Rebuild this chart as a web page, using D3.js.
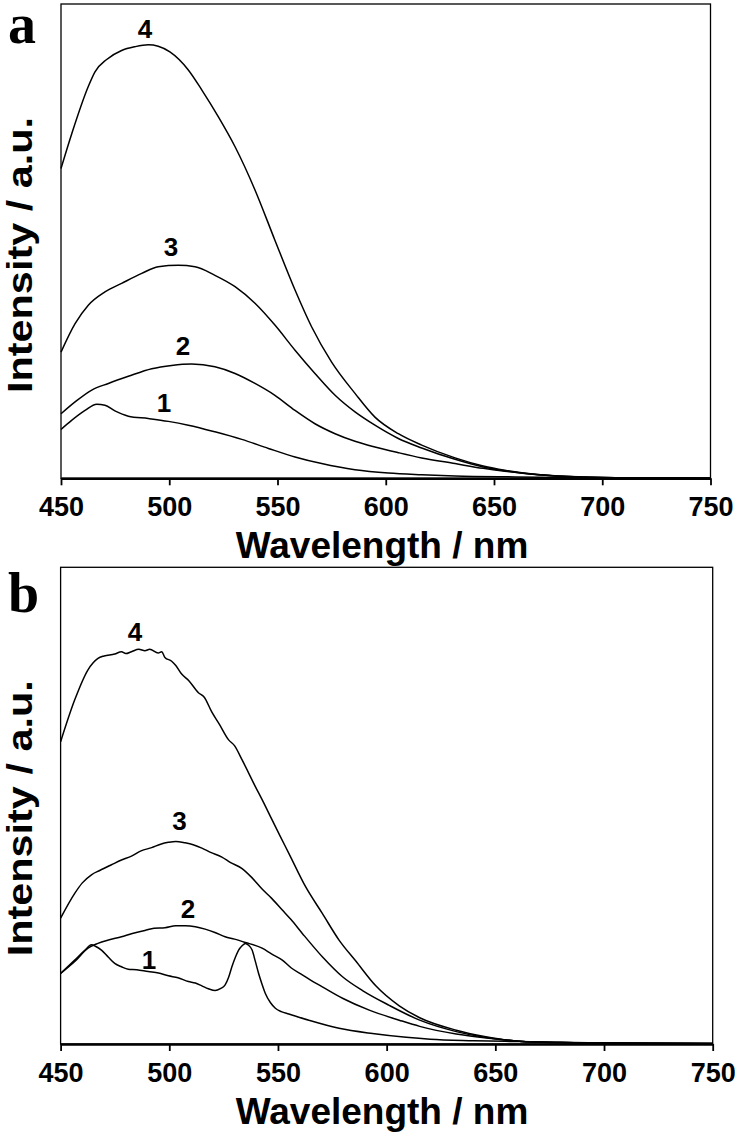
<!DOCTYPE html>
<html>
<head>
<meta charset="utf-8">
<script src="https://cdn.jsdelivr.net/npm/d3@7"></script>
<style>
  body { margin: 0; background: #fff; }
  svg { display: block; }
  .tick text { font-family: "Liberation Sans", Arial, sans-serif; font-weight: bold; }
</style>
</head>
<body>
<svg id="chart" width="739" height="1135"></svg>
<script>
////////////////////////////////////////////////////////////////////////////////
/////////////////////////////////////////////////////////////////////////// Data
////////////////////////////////////////////////////////////////////////////////

// x ticks (nm)
const wavelengthTicks = [450, 500, 550, 600, 650, 700, 750];

// panel a: [wavelength nm, intensity a.u.]
const a1 = [[450,10.3],[454.9,12.2],[461.1,14.3],[466.5,15.6],[470.3,15.4],[474.9,14.2],[481.1,13.1],[490.3,12.6],[499.6,12.0],[508.8,11.2],[521.1,9.8],[533.5,8.2],[545.8,6.3],[558.1,4.5],[570.4,3.1],[585.8,1.8],[601.2,1.1],[616.6,0.75],[632,0.5],[660,0.3],[700,0.1],[750,0]];
const a2 = [[450,13.6],[456.5,16.1],[464.2,18.6],[471.9,20.0],[481.1,21.5],[491.9,23.1],[501.1,23.8],[510.4,24.1],[521.1,23.5],[530.4,22.1],[539.6,20.0],[548.8,17.5],[558.1,14.3],[567.3,11.5],[576.6,9.4],[585.8,7.8],[595,6.6],[605.8,5.4],[616.6,4.3],[632,3.1],[645,2.1],[655,1.5],[670,0.8],[690,0.3],[720,0.1],[750,0]];
const a3 = [[450,26.6],[456.5,32.6],[462.6,36.5],[470.3,39.3],[478,41.1],[487.3,43.2],[494.9,44.6],[504.2,44.9],[511.9,44.6],[521.1,42.8],[530.4,40.4],[539.6,36.9],[548.8,32.3],[558.1,27.0],[567.3,22.1],[576.6,17.5],[585.8,14.0],[595,11.2],[605.8,8.4],[616.6,6.4],[632,4.0],[645,2.4],[655,1.6],[670,0.75],[690,0.3],[720,0.1],[750,0]];
const a4 = [[450,65.3],[455,72.7],[462.6,82.6],[465.7,85.7],[471.1,88.3],[478,90.2],[484.2,91.0],[490.3,91.4],[494.9,91.1],[500.3,89.9],[508.8,86.1],[515,81.9],[522.7,76.2],[530.4,69.9],[539.6,60.8],[548.8,50.2],[558.1,39.7],[565.8,31.9],[575,24.5],[585.8,17.9],[595,12.9],[605.8,9.4],[616.6,7.0],[632,4.3],[645,2.6],[655,1.7],[670,0.8],[690,0.3],[720,0.1],[750,0]];

// panel b: [wavelength nm, intensity a.u.]
const b1 = [[450,14.8],[456.5,17.6],[461,19.6],[464.2,20.8],[466,20.5],[468.8,19.7],[472,18.2],[474.9,16.9],[478,16.2],[481.1,15.7],[485,15.6],[490.3,15.2],[495,14.9],[499.6,14.3],[504,13.9],[508.8,13.1],[512,12.8],[515,12.2],[518,11.6],[521.1,11.2],[523.5,11.6],[525.7,12.4],[527.3,14.0],[528.8,16.2],[530.5,18.3],[531.9,19.7],[533.5,20.6],[535,21.1],[536.5,20.7],[538.1,19.7],[539.5,17.5],[541.1,14.8],[542.7,12.5],[544.2,10.6],[546.5,8.7],[548.8,7.5],[551.5,6.8],[555,6.3],[564.2,5.0],[578.1,3.3],[593.5,2.2],[609,1.4],[620,1.0],[640,0.7],[661,0.5],[700,0.2],[750,0.1]];
const b2 = [[450,14.8],[456.5,17.3],[462.6,20.1],[467.2,21.1],[472,21.8],[478,22.5],[483,23.2],[488.8,23.8],[493,24.3],[498,24.4],[503,24.8],[507.3,24.8],[512,24.6],[516.5,24.1],[521,23.4],[525.7,22.5],[530,22.0],[535,21.3],[542.7,20.1],[547,18.9],[552,17.6],[556,16.0],[561.2,14.5],[565,13.4],[570.4,12.0],[579.7,9.6],[592,7.1],[605.8,5.0],[615.2,3.7],[632,2.1],[645,1.3],[661,0.6],[680,0.3],[700,0.2],[750,0.1]];
const b3 = [[450,26.4],[456.5,31.6],[460,33.8],[464.2,35.5],[468,36.4],[473.4,37.6],[478,38.6],[482.6,39.4],[487,40.5],[491.9,41.2],[496,41.9],[499.6,42.3],[503,42.5],[507.3,42.2],[511,41.8],[515,41.1],[519,40.2],[524.2,39.2],[528,38.1],[533.5,36.8],[538,34.9],[542.7,32.5],[547,30.6],[552,28.1],[556,26.1],[561.2,23.2],[570.4,18.3],[579.7,14.1],[588.9,11.2],[601.2,8.1],[615.2,5.0],[632,2.6],[645,1.4],[661,0.6],[680,0.3],[700,0.2],[750,0.1]];
const b4 = [[450,63.4],[456.5,72.2],[462.6,78.5],[467.2,80.9],[470,81.4],[474.9,81.8],[478,82.3],[480,81.9],[482.6,82.3],[486,82.8],[488.8,82.5],[491,82.8],[494.9,82.0],[496.5,82.3],[498,81.1],[501.1,80.3],[503,79.4],[505.7,77.6],[509,76.2],[513.4,73.7],[516,72.8],[519.6,69.6],[523,67.1],[527.3,63.8],[530,62.6],[533.5,59.6],[539.6,54.0],[543,51.0],[547.3,47.0],[551,43.6],[555,40.0],[562.7,33.0],[570.4,27.4],[578.1,21.8],[585.8,17.4],[595,12.2],[605.8,8.0],[615.2,5.5],[632,2.9],[645,1.6],[661,0.6],[680,0.3],[700,0.2],[750,0.1]];

// curve labels: [text, wavelength, intensity]
const aLabels = [["1",497.6,15.9],["2",506.4,27.9],["3",500.8,48.8],["4",488.8,94.9]];
const bLabels = [["1",490.7,17.8],["2",508.6,28.5],["3",504.7,46.8],["4",484.2,86.4]];

////////////////////////////////////////////////////////////////////////////////
///////////////////////////////////////////////////////////////////////// Panels
////////////////////////////////////////////////////////////////////////////////

const svg = d3.select("#chart");
const sans = "'Liberation Sans', Arial, sans-serif";

function drawPanel(cfg) {
  const xScale = d3.scaleLinear()
                   .domain([450, 750])
                   .range([cfg.left, cfg.right]);
  const yScale = d3.scaleLinear()
                   .domain([0, 100])
                   .range([cfg.bottom, cfg.top]);

  // frame
  svg.append("rect")
       .attr("x", cfg.left)
       .attr("y", cfg.top)
       .attr("width", cfg.right - cfg.left)
       .attr("height", cfg.bottom - cfg.top)
       .attr("fill", "none")
       .attr("stroke", "#000")
       .attr("stroke-width", 1.3);

  // X-axis
  const xAxis = d3.axisBottom(xScale)
                  .tickValues(wavelengthTicks)
                  .tickFormat(d3.format("d"))
                  .tickSize(7)
                  .tickSizeOuter(0)
                  .tickPadding(12);
  const gx = svg.append("g")
                  .attr("transform", `translate(0, ${cfg.bottom})`)
                  .call(xAxis);
  gx.select(".domain").attr("stroke-width", 2.6);
  gx.selectAll(".tick line").attr("stroke-width", 1.8);
  gx.selectAll(".tick text")
      .attr("font-size", 27)
      .attr("fill", "#000");

  // lines
  const line = d3.line()
                 .x(function(d) { return xScale(d[0]); })
                 .y(function(d) { return yScale(d[1]); })
                 .curve(d3.curveMonotoneX);
  svg.selectAll(null)
     .data(cfg.series)
     .join("path")
       .attr("d", line)
       .attr("fill", "none")
       .attr("stroke", "#000")
       .attr("stroke-width", 1.5)
       .attr("stroke-linejoin", "round");

  // curve numbers
  svg.selectAll(null)
     .data(cfg.labels)
     .join("text")
       .attr("x", function(d) { return xScale(d[1]); })
       .attr("y", function(d) { return yScale(d[2]); })
       .attr("dy", "0.36em")
       .attr("text-anchor", "middle")
       .style("font-family", sans)
       .style("font-weight", "bold")
       .style("font-size", "26px")
       .text(function(d) { return d[0]; });

  // panel letter
  svg.append("text")
       .attr("x", 8)
       .attr("y", cfg.letterY)
       .style("font-family", "'Liberation Serif', 'Times New Roman', serif")
       .style("font-weight", "bold")
       .style("font-size", cfg.letterSize + "px")
       .text(cfg.letter);

  // axis titles
  svg.append("text")
       .attr("x", 382)
       .attr("y", cfg.bottom + 80)
       .attr("text-anchor", "middle")
       .style("font-family", sans)
       .style("font-weight", "bold")
       .style("font-size", "37px")
       .text("Wavelength / nm");
  svg.append("text")
       .attr("transform", `translate(32, ${cfg.top + 251}) rotate(-90)`)
       .attr("text-anchor", "middle")
       .attr("textLength", 276)
       .attr("lengthAdjust", "spacingAndGlyphs")
       .style("font-family", sans)
       .style("font-weight", "bold")
       .style("font-size", "35px")
       .text("Intensity / a.u.");
}

drawPanel({
  left: 61, right: 710.5, top: 4, bottom: 478.3,
  series: [a1, a2, a3, a4], labels: aLabels,
  letter: "a", letterY: 43, letterSize: 56
});

drawPanel({
  left: 60.6, right: 712.7, top: 567.3, bottom: 1044,
  series: [b1, b2, b3, b4], labels: bLabels,
  letter: "b", letterY: 612, letterSize: 56
});
</script>
</body>
</html>
